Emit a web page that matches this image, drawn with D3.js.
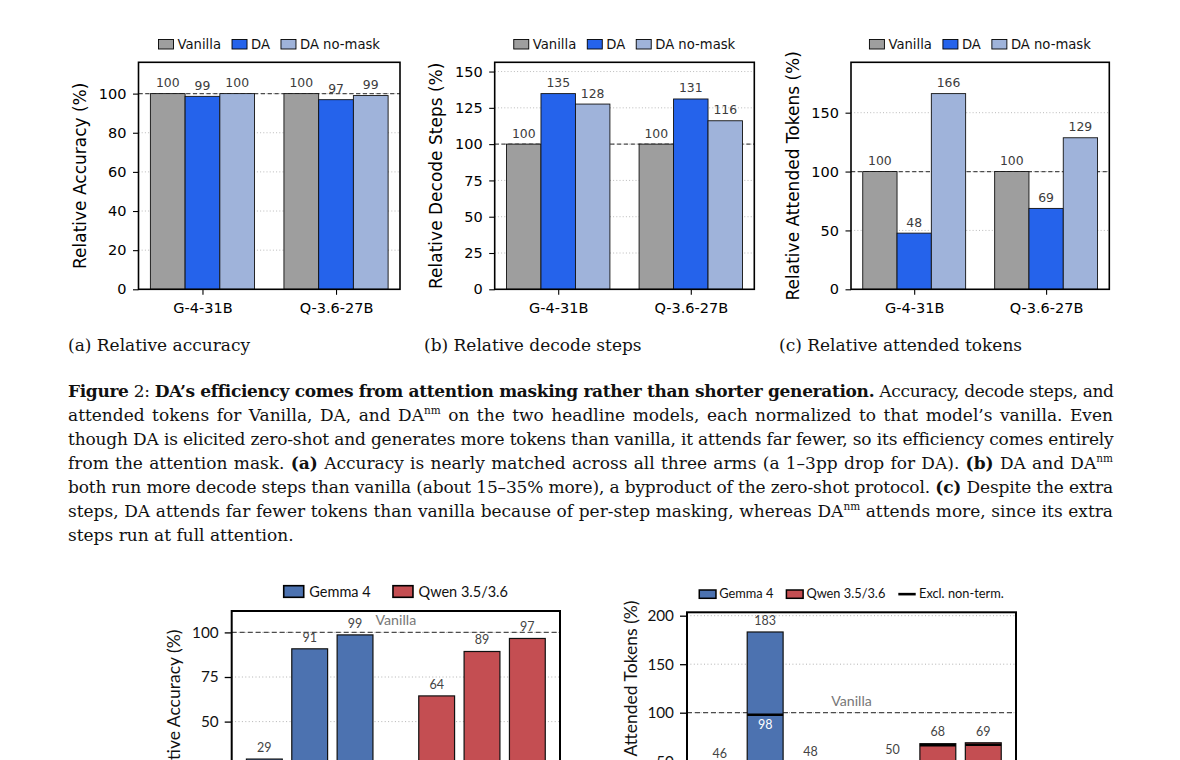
<!DOCTYPE html>
<html><head><meta charset="utf-8">
<script src="https://cdn.jsdelivr.net/npm/d3@7"></script>
<style>
html,body{margin:0;padding:0;background:#fff;overflow:hidden;}
svg{display:block;}
</style></head><body>
<svg id="fig" width="1180" height="760"></svg>
<script>
// ---------------- data ----------------
const groups = ["G-4-31B", "Q-3.6-27B"];
const arms = ["Vanilla", "DA", "DA no-mask"];
const accVanilla = [100, 100];
const accDA = [98.6, 96.9];
const accNoMask = [100, 99.0];
const stepsVanilla = [100, 100];
const stepsDA = [134.8, 131.1];
const stepsNoMask = [127.6, 116.1];
const tokensVanilla = [100, 100];
const tokensDA = [47.7, 68.7];
const tokensNoMask = [166.2, 128.7];
const accTicks = [0, 20, 40, 60, 80, 100];
const stepsTicks = [0, 25, 50, 75, 100, 125, 150];
const tokensTicks = [0, 50, 100, 150];

const families = ["Gemma 4", "Qwen 3.5/3.6"];
const ablationFamily = [0, 0, 0, 1, 1, 1];
const ablationPos = [0, 1, 2, 3.8, 4.8, 5.8];
const ablationAcc = [29.0, 90.8, 98.6, 64.4, 89.3, 96.6];
const ablationTokens = [46.0, 183.2, 48.0, 50.0, 68.1, 69.0];
const ablationTokensExcl = [null, 98.0, null, null, 66.4, 66.9];
const ablationAccTicks = [25, 50, 75, 100];
const ablationTokensTicks = [0, 50, 100, 150, 200];

// ---------------- styles ----------------
const armColors = ["#9e9e9e", "#2563eb", "#9fb3da"];
const famColors = ["#4c72b0", "#c44e52"];
const svg = d3.select("#fig");
const fmt = d3.format(".0f");

function legend(g, items, cx, o) {
  const grp = g.append("g");
  let xc = 0; const placed = [];
  items.forEach(it => {
    const t = grp.append("text").attr("font-family", o.font).attr("font-size", o.fs)
      .attr("y", o.baseline).attr("fill", "#111").text(it.label);
    const w = t.node().getComputedTextLength();
    const pw = it.type === "line" ? o.lw : o.pw;
    placed.push({it, t, x0: xc, pw});
    xc += pw + o.gapText + w + o.gapItem;
  });
  const x0 = cx - (xc - o.gapItem) / 2;
  placed.forEach(p => {
    const px = x0 + p.x0;
    if (p.it.type === "line") {
      grp.append("line").attr("x1", px).attr("x2", px + p.pw)
        .attr("y1", o.patchTop + o.ph / 2).attr("y2", o.patchTop + o.ph / 2)
        .attr("stroke", "#000").attr("stroke-width", 2.6);
    } else {
      grp.append("rect").attr("x", px).attr("y", o.patchTop).attr("width", p.pw).attr("height", o.ph)
        .attr("fill", p.it.color).attr("stroke", "#000").attr("stroke-width", o.sw);
    }
    p.t.attr("x", px + p.pw + o.gapText);
  });
}

function topChart({left, right, series, ticks, ylabel}) {
  const top = 62.3, bottom = 289.3, bw = 0.26;
  const g = svg.append("g");
  const x = d3.scaleLinear().domain([-0.479, 1.479]).range([left, right]);
  const y = d3.scaleLinear().domain([0, d3.max(series.flat()) * 1.16]).range([bottom, top]);
  g.append("g").selectAll("line").data(ticks.filter(t => t > 0)).join("line")
    .attr("x1", left).attr("x2", right).attr("y1", d => y(d)).attr("y2", d => y(d))
    .attr("stroke", "#aaa").attr("stroke-width", 0.8).attr("stroke-dasharray", "1 2.2");
  g.append("line").attr("x1", left).attr("x2", right).attr("y1", y(100)).attr("y2", y(100))
    .attr("stroke", "#4d4d4d").attr("stroke-width", 1.2).attr("stroke-dasharray", "4.2 2.6");
  series.forEach((vals, si) => {
    const off = (si - 1) * bw;
    g.append("g").selectAll("rect").data(vals).join("rect")
      .attr("x", (d, i) => x(i + off - bw / 2)).attr("width", x(bw) - x(0))
      .attr("y", d => y(d)).attr("height", d => y(0) - y(d))
      .attr("fill", armColors[si]).attr("stroke", "#111").attr("stroke-width", 0.9);
    g.append("g").selectAll("text").data(vals).join("text")
      .attr("x", (d, i) => x(i + off)).attr("y", d => y(d) - 6.5)
      .attr("text-anchor", "middle").attr("font-family", "DejaVu Sans").attr("font-size", 12.4)
      .attr("fill", "#3c3c3c").text(d => fmt(d));
  });
  const ya = g.append("g").attr("transform", `translate(${left},0)`)
    .call(d3.axisLeft(y).tickValues(ticks).tickSize(5.5).tickPadding(6.5).tickFormat(d3.format("d")));
  const xa = g.append("g").attr("transform", `translate(0,${bottom})`)
    .call(d3.axisBottom(x).tickValues([0, 1]).tickSize(5.5).tickPadding(8).tickFormat(i => groups[i]));
  [ya, xa].forEach(a => {
    a.select(".domain").remove();
    a.attr("font-family", "DejaVu Sans").attr("font-size", 14.5);
    a.selectAll("line").attr("stroke", "#000").attr("stroke-width", 1.1);
    a.selectAll("text").attr("fill", "#000");
  });
  g.append("rect").attr("x", left).attr("y", top).attr("width", right - left).attr("height", bottom - top)
    .attr("fill", "none").attr("stroke", "#000").attr("stroke-width", 1.6);
  g.append("text").attr("transform", `translate(${left - 52.5},${(top + bottom) / 2}) rotate(-90)`)
    .attr("text-anchor", "middle").attr("font-family", "DejaVu Sans").attr("font-size", 17)
    .attr("fill", "#000").text(ylabel);
  legend(g, arms.map((a, i) => ({label: a, color: armColors[i]})), (left + right) / 2,
    {font: "DejaVu Sans", fs: 13.2, baseline: 48.5, patchTop: 39.5, pw: 15, ph: 9.5, lw: 15,
     gapText: 4, gapItem: 11, sw: 0.9});
}

topChart({left: 138.5, right: 400, series: [accVanilla, accDA, accNoMask], ticks: accTicks, ylabel: "Relative Accuracy (%)"});
topChart({left: 494.7, right: 754.3, series: [stepsVanilla, stepsDA, stepsNoMask], ticks: stepsTicks, ylabel: "Relative Decode Steps (%)"});
topChart({left: 851, right: 1109.3, series: [tokensVanilla, tokensDA, tokensNoMask], ticks: tokensTicks, ylabel: "Relative Attended Tokens (%)"});

function ablationChart({left, right, top, y0, ymax, vals, excl, ticks, ylabel, ylabelOff, leg}) {
  const g = svg.append("g"), bw = 0.79;
  const x = d3.scaleLinear().domain([-0.72, 6.52]).range([left, right]);
  const y = d3.scaleLinear().domain([0, ymax]).range([y0, top]);
  g.append("g").selectAll("line").data(ticks.filter(t => t > 0)).join("line")
    .attr("x1", left).attr("x2", right).attr("y1", d => y(d)).attr("y2", d => y(d))
    .attr("stroke", "#aaa").attr("stroke-width", 0.9).attr("stroke-dasharray", "1 2.4");
  g.append("line").attr("x1", left).attr("x2", right).attr("y1", y(100)).attr("y2", y(100))
    .attr("stroke", "#4d4d4d").attr("stroke-width", 1.3).attr("stroke-dasharray", "5 3");
  g.append("text").attr("x", x((ablationPos[2] + ablationPos[3]) / 2)).attr("y", y(100) - 7)
    .attr("text-anchor", "middle").attr("font-family", "Lato").attr("font-size", 14.2)
    .attr("fill", "#777").text("Vanilla");
  g.append("g").selectAll("rect").data(vals).join("rect")
    .attr("x", (d, i) => x(ablationPos[i] - bw / 2)).attr("width", x(bw) - x(0))
    .attr("y", d => y(d)).attr("height", d => y(0) - y(d))
    .attr("fill", (d, i) => famColors[ablationFamily[i]]).attr("stroke", "#111").attr("stroke-width", 1.2);
  if (excl) {
    excl.forEach((e, i) => {
      if (e == null) return;
      g.append("line").attr("x1", x(ablationPos[i] - bw / 2)).attr("x2", x(ablationPos[i] + bw / 2))
        .attr("y1", y(e)).attr("y2", y(e)).attr("stroke", "#000").attr("stroke-width", 2.5);
      if (vals[i] - e > 10) {
        g.append("text").attr("x", x(ablationPos[i])).attr("y", y(e) + 14)
          .attr("text-anchor", "middle").attr("font-family", "Lato").attr("font-size", 12.5)
          .attr("fill", "#fff").text(fmt(e));
      }
    });
  }
  g.append("g").selectAll("text").data(vals).join("text")
    .attr("x", (d, i) => x(ablationPos[i])).attr("y", d => y(d) - 7.2)
    .attr("text-anchor", "middle").attr("font-family", "Lato").attr("font-size", 12.5)
    .attr("fill", "#444").text(d => fmt(d));
  const ya = g.append("g").attr("transform", `translate(${left},0)`)
    .call(d3.axisLeft(y).tickValues(ticks).tickSize(7).tickPadding(6).tickFormat(d3.format("d")));
  ya.select(".domain").remove();
  ya.attr("font-family", "Lato").attr("font-size", 15.3);
  ya.selectAll("line").attr("stroke", "#000").attr("stroke-width", 1.3);
  ya.selectAll("text").attr("fill", "#111");
  g.append("rect").attr("x", left).attr("y", top).attr("width", right - left).attr("height", y0 - top)
    .attr("fill", "none").attr("stroke", "#000").attr("stroke-width", 2);
  g.append("text").attr("transform", `translate(${left - ylabelOff},${(top + y0) / 2}) rotate(-90)`)
    .attr("text-anchor", "middle").attr("font-family", "Lato").attr("font-size", 17.5)
    .attr("fill", "#111").text(ylabel);
  legend(g, leg.items, (left + right) / 2, leg.opts);
}

ablationChart({left: 231.7, right: 560, top: 611, y0: 810.8, ymax: 112, vals: ablationAcc, excl: null,
  ticks: ablationAccTicks, ylabel: "Relative Accuracy (%)", ylabelOff: 51.7,
  leg: {items: families.map((f, i) => ({label: f, color: famColors[i]})),
        opts: {font: "Lato", fs: 14.5, baseline: 597.3, patchTop: 585.7, pw: 20, ph: 11.6, lw: 20,
               gapText: 5.6, gapItem: 22.3, sw: 1.6}}});

ablationChart({left: 687, right: 1016, top: 612.3, y0: 809.7, ymax: 203.5, vals: ablationTokens, excl: ablationTokensExcl,
  ticks: ablationTokensTicks, ylabel: "Relative Attended Tokens (%)", ylabelOff: 50,
  leg: {items: families.map((f, i) => ({label: f, color: famColors[i]})).concat([{label: "Excl. non-term.", type: "line"}]),
        opts: {font: "Lato", fs: 12.8, baseline: 598.3, patchTop: 590, pw: 16.7, ph: 8.3, lw: 17.4,
               gapText: 3.3, gapItem: 13, sw: 1.5}}});

// ---------------- captions ----------------
const subcaps = [["(a) Relative accuracy", 68], ["(b) Relative decode steps", 424], ["(c) Relative attended tokens", 779]];
subcaps.forEach(([t, x]) => svg.append("text").attr("x", x).attr("y", 350.7)
  .attr("font-family", "DejaVu Serif").attr("font-size", 17).attr("fill", "#111").text(t));

const captionLines = [
  [["b", "Figure"], ["r", " 2: "], ["b", "DA’s efficiency comes from attention masking rather than shorter generation."], ["r", " Accuracy, decode steps, and"]],
  [["r", "attended tokens for Vanilla, DA, and DA"], ["s", "nm"], ["r", " on the two headline models, each normalized to that model’s vanilla. Even"]],
  [["r", "though DA is elicited zero-shot and generates more tokens than vanilla, it attends far fewer, so its efficiency comes entirely"]],
  [["r", "from the attention mask. "], ["b", "(a)"], ["r", " Accuracy is nearly matched across all three arms (a 1–3pp drop for DA). "], ["b", "(b)"], ["r", " DA and DA"], ["s", "nm"]],
  [["r", "both run more decode steps than vanilla (about 15–35% more), a byproduct of the zero-shot protocol. "], ["b", "(c)"], ["r", " Despite the extra"]],
  [["r", "steps, DA attends far fewer tokens than vanilla because of per-step masking, whereas DA"], ["s", "nm"], ["r", " attends more, since its extra"]],
  [["r", "steps run at full attention."]]
];
const capLeft = 68, capRight = 1113;
captionLines.forEach((segs, li) => {
  const t = svg.append("text").attr("x", capLeft).attr("y", 396.7 + li * 24.0)
    .attr("font-family", "DejaVu Serif").attr("font-size", 17).attr("fill", "#111")
    .style("white-space", "pre");
  let raised = false;
  segs.forEach(([k, s]) => {
    const ts = t.append("tspan").text(s);
    if (k === "b") ts.attr("font-weight", "bold");
    if (k === "s") { ts.attr("font-size", 10.5).attr("dy", -6.5); raised = true; }
    else if (raised) { ts.attr("dy", 6.5); raised = false; }
  });
  if (li < captionLines.length - 1) {
    const full = segs.map(s => s[1]).join("");
    const n = (full.match(/ /g) || []).length;
    const w = t.node().getComputedTextLength();
    const need = (capRight - capLeft) - w;
    if (need >= 0) t.style("word-spacing", (need / n) + "px");
    else t.style("letter-spacing", (need / (full.length)) + "px");
  }
});
</script>
</body></html>
